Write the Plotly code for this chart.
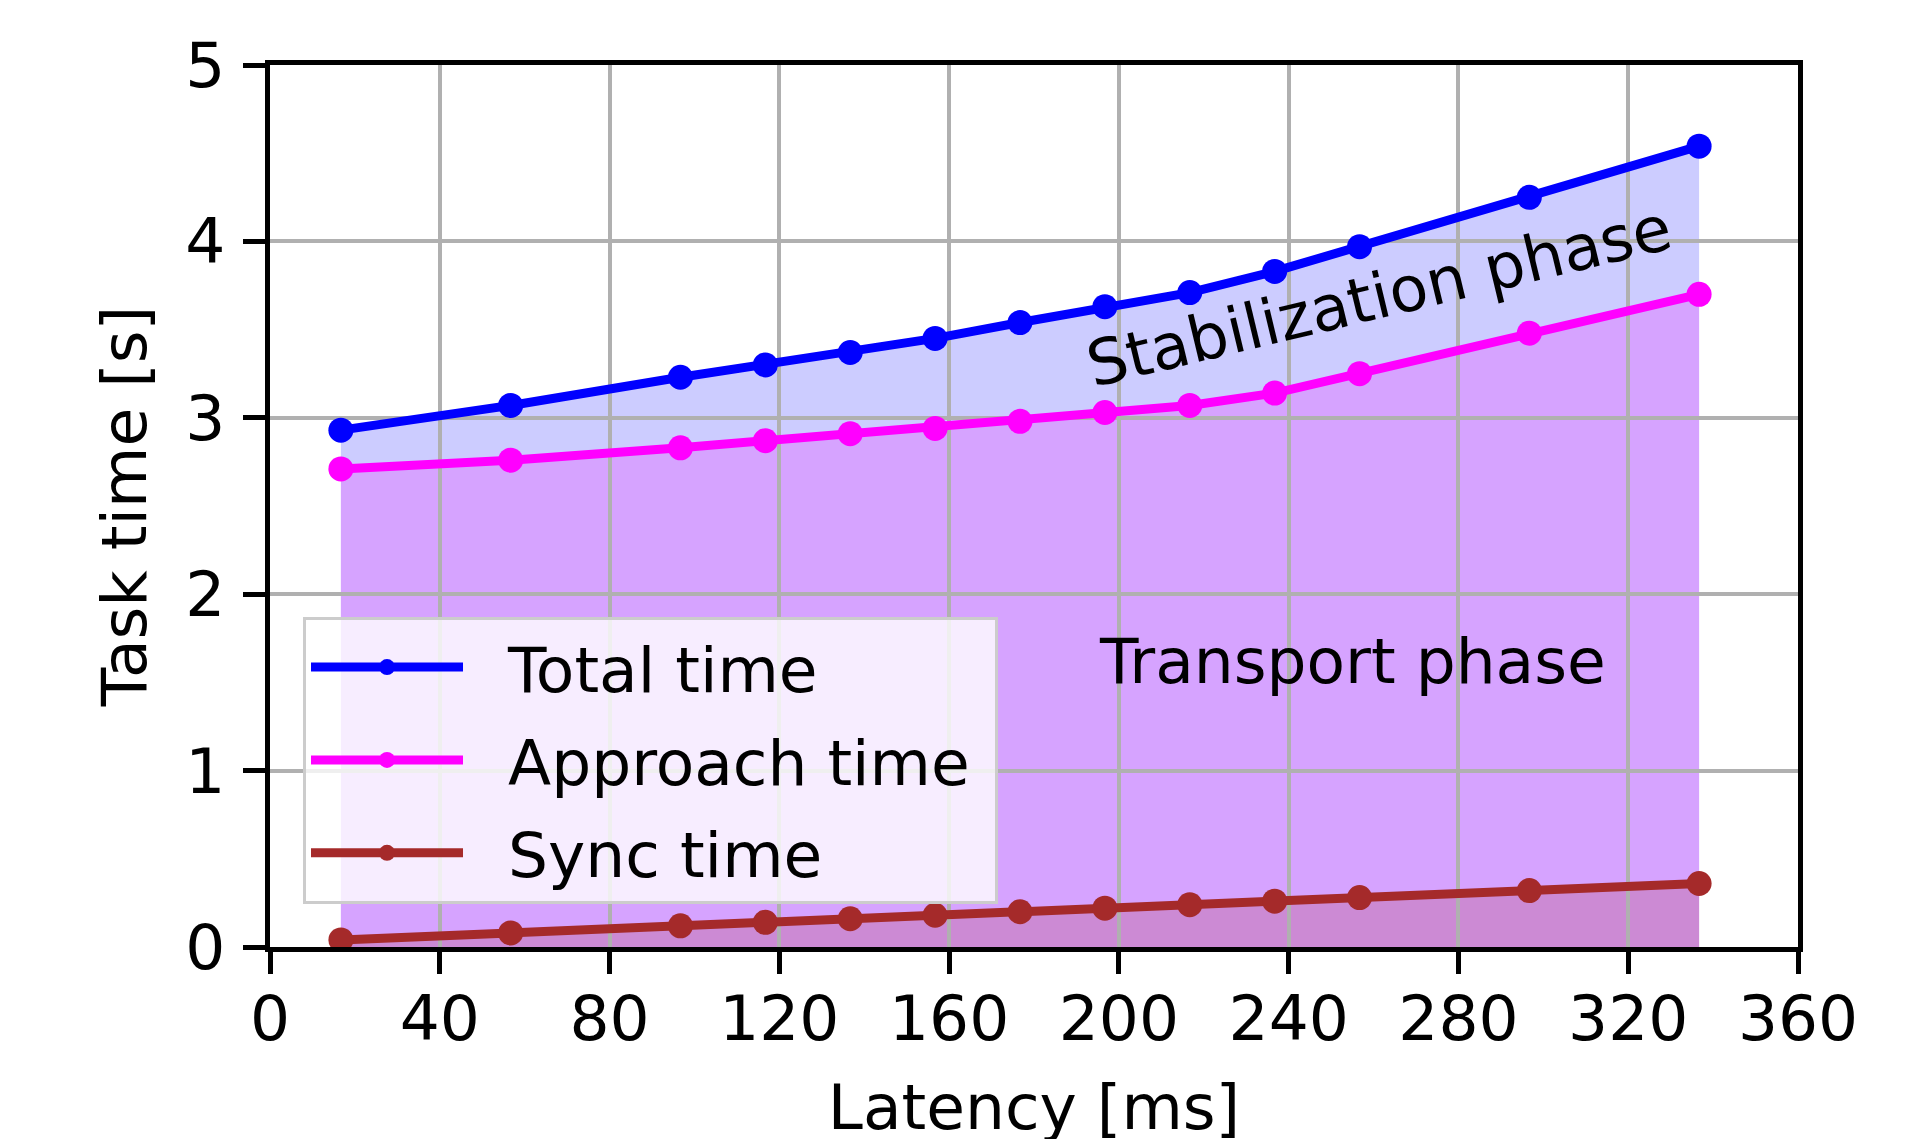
import plotly.graph_objects as go

latency = [16.7, 56.7, 96.7, 116.7, 136.7, 156.7, 176.7, 196.7, 216.7, 236.7, 256.7, 296.7, 336.7]
total_time = [2.93, 3.07, 3.23, 3.30, 3.37, 3.45, 3.54, 3.63, 3.71, 3.83, 3.97, 4.25, 4.54]
approach_time = [2.71, 2.76, 2.83, 2.87, 2.91, 2.94, 2.98, 3.03, 3.07, 3.14, 3.25, 3.48, 3.70]
sync_time = [0.04, 0.08, 0.12, 0.14, 0.16, 0.18, 0.20, 0.22, 0.24, 0.26, 0.28, 0.32, 0.36]

x_ticks = [0, 40, 80, 120, 160, 200, 240, 280, 320, 360]
y_ticks = [0, 1, 2, 3, 4, 5]

FONT = "DejaVu Sans"
FS = 63
NB = "\u00a0\u00a0"

fig = go.Figure()

# fills on base subplot (drawn below the grid of the second subplot)
fig.add_trace(go.Scatter(x=latency, y=total_time, mode="none", fill="tozeroy",
                         fillcolor="rgba(0,0,255,0.2)", showlegend=False, hoverinfo="skip",
                         xaxis="x", yaxis="y"))
fig.add_trace(go.Scatter(x=latency, y=approach_time, mode="none", fill="tozeroy",
                         fillcolor="rgba(255,0,255,0.2)", showlegend=False, hoverinfo="skip",
                         xaxis="x", yaxis="y"))
fig.add_trace(go.Scatter(x=latency, y=sync_time, mode="none", fill="tozeroy",
                         fillcolor="rgba(165,42,42,0.2)", showlegend=False, hoverinfo="skip",
                         xaxis="x", yaxis="y"))

# lines on the second subplot (above grid)
series = [("Total time", total_time, "#0000ff"),
          ("Approach time\u00a0", approach_time, "#ff00ff"),
          ("Sync time", sync_time, "#a52a2a")]
for i, (name, vals, col) in enumerate(series):
    fig.add_trace(go.Scatter(x=latency, y=vals, mode="lines+markers", name=NB + name,
                             line=dict(color=col, width=9),
                             marker=dict(color=col, size=25),
                             legendgroup=f"g{i}",
                             xaxis="x2", yaxis="y2"))

fig.update_layout(
    width=1922, height=1139,
    margin=dict(l=262, r=132, t=57, b=200),
    paper_bgcolor="white", plot_bgcolor="rgba(0,0,0,0)",
    font=dict(family=FONT, size=FS, color="black"),
    xaxis=dict(domain=[0, 1], range=[0, 360], visible=False, showgrid=False, fixedrange=True),
    yaxis=dict(domain=[0, 1], range=[0, 5], visible=False, showgrid=False, fixedrange=True),
    xaxis2=dict(domain=[0, 1], anchor="y2", range=[0, 360], tickvals=x_ticks,
                ticktext=[str(v) for v in x_ticks],
                showgrid=True, gridcolor="#b0b0b0", gridwidth=4,
                showline=True, linecolor="black", linewidth=5, mirror=True,
                ticks="outside", ticklen=22, tickwidth=5, tickcolor="black",
                ticklabelstandoff=-10, zeroline=False, automargin=False,
                tickfont=dict(family=FONT, size=FS, color="black"),
                title=dict(text="Latency [ms]", font=dict(family=FONT, size=FS, color="black"), standoff=33)),
    yaxis2=dict(domain=[0, 1], anchor="x2", range=[0, 5], tickvals=y_ticks,
                ticktext=[str(v) for v in y_ticks],
                showgrid=True, gridcolor="#b0b0b0", gridwidth=4,
                showline=True, linecolor="black", linewidth=5, mirror=True,
                ticks="outside", ticklen=22, tickwidth=5, tickcolor="black",
                ticklabelstandoff=5, zeroline=False, automargin=False,
                tickfont=dict(family=FONT, size=FS, color="black"),
                title=dict(text="Task time [s]", font=dict(family=FONT, size=FS, color="black"), standoff=20)),
    legend=dict(x=0.0216, y=0.3746, xanchor="left", yanchor="top",
                bgcolor="rgba(255,255,255,0.8)", bordercolor="#cccccc", borderwidth=3,
                font=dict(family=FONT, size=FS, color="black"),
                itemwidth=152, tracegroupgap=8, traceorder="grouped"),
    annotations=[
        dict(x=255, y=1.62, xref="x2", yref="y2", text="Transport phase", showarrow=False,
             font=dict(family=FONT, size=FS, color="black"), xanchor="center", yanchor="middle"),
        dict(x=261.3, y=3.685, xref="x2", yref="y2", text="Stabilization phase", showarrow=False,
             textangle=-13.5,
             font=dict(family=FONT, size=FS, color="black"), xanchor="center", yanchor="middle"),
    ],
)

fig.write_html("out.html")
